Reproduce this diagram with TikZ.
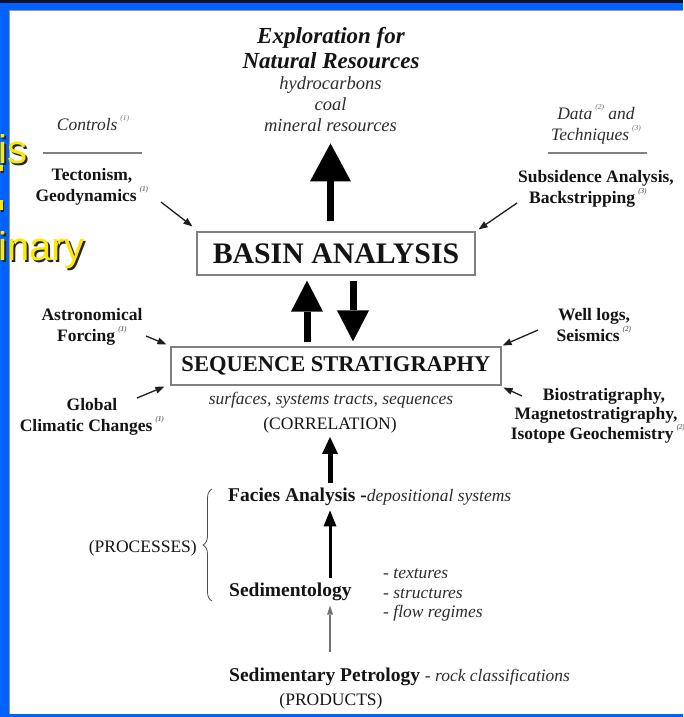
\documentclass[tikz,border=0pt]{standalone}
\usepackage{fontspec}
\setmainfont{Liberation Serif}
\newfontfamily\arialf{Liberation Sans}
\usetikzlibrary{arrows.meta,decorations.pathreplacing}
\definecolor{frameblue}{RGB}{0,98,255}
\definecolor{framedark}{RGB}{10,20,50}
\definecolor{slideyellow}{RGB}{255,232,0}
\definecolor{inkgray}{RGB}{45,45,45}
\newcommand\fnm[1]{\,\raisebox{0.55em}{\fontsize{7.5}{7.5}\selectfont\itshape\color{black!55}(#1)}}
\begin{document}
\begin{tikzpicture}[x=1pt,y=-1pt,
  txt/.style={anchor=base, inner sep=0pt, text=black!92},
  rg/.style={txt, font=\fontsize{17.5}{21}\selectfont},
  it/.style={txt, text=inkgray, font=\fontsize{17.5}{21}\selectfont\itshape},
  bf/.style={txt, font=\fontsize{17.5}{21}\selectfont\bfseries},
  bfl/.style={txt, font=\fontsize{19.5}{23}\selectfont\bfseries},
  ttl/.style={txt, font=\fontsize{23}{26}\selectfont\bfseries\itshape},
  itl/.style={txt, text=inkgray, font=\fontsize{18.5}{21}\selectfont\itshape},
  boxed/.style={draw=black!50, line width=1.2pt, inner sep=0pt, text=black!92},
  lblarrow/.style={line width=1.3pt, draw=black!88, -{Triangle[width=7pt,length=9pt,line width=0pt]}},
  bigA/.style={line width=7.5pt, draw=black, -{Triangle[width=41pt,length=38pt,line width=0pt]}},
  bigB/.style={line width=7pt, draw=black, -{Triangle[width=32pt,length=31pt,line width=0pt]}},
  arrC/.style={line width=5pt, draw=black, -{Triangle[width=16pt,length=17pt,line width=0pt]}},
  arrD/.style={line width=3pt, draw=black, -{Triangle[width=13pt,length=16pt,line width=0pt]}},
  arrE/.style={line width=1.4pt, draw=black!55, -{Triangle[width=6pt,length=9pt,line width=0pt]}},
  ytext/.style={anchor=base west, inner sep=0pt, font=\arialf\fontsize{40}{40}\selectfont}
]
\useasboundingbox (0,0) rectangle (683,717);
\clip (0,0) rectangle (683,717);
\fill[white] (0,0) rectangle (683,717);
% frame
\fill[frameblue] (0,0) rectangle (683,10);
\fill[frameblue] (0,0) rectangle (9,717);
\fill[frameblue] (0,714) rectangle (683,717);
\fill[framedark] (0,0) rectangle (683,3);
\fill[black!40] (9,10) rectangle (10,714);
\fill[black!40] (9,10) rectangle (683,11);
% slide text fragments
\node[ytext, text=black!85] (ysh1) at (0,165) {is};
\node[ytext, text=slideyellow] (y1) at (-2,163) {is};
\node[ytext, text=black!85] (ysh2) at (0,262) {inary};
\node[ytext, text=slideyellow] (y2) at (-2,260) {inary};
\fill[black!85] (1,167) rectangle (4,173);
\fill[slideyellow] (0,165) rectangle (3,171);
\fill[black!85] (1,202) rectangle (4,212);
\fill[slideyellow] (0,200) rectangle (3,210);

% title
\node[ttl] (expl1) at (331,44) {Exploration for};
\node[ttl] (expl2) at (331,68) {Natural Resources};
\node[itl] (hyd) at (330.5,89) {hydrocarbons};
\node[itl] (coal) at (330.5,110) {coal};
\node[itl] (res) at (330.5,131) {mineral resources};

% boxes
\node[boxed, minimum width=278, minimum height=43, font=\fontsize{29.8}{30}\selectfont\bfseries] (basin) at (336,253.5) {BASIN ANALYSIS};
\node[boxed, minimum width=330, minimum height=38, font=\fontsize{22.5}{24}\selectfont\bfseries] (seq) at (336,366) {SEQUENCE STRATIGRAPHY};

% left labels
\node[it] (ctrl) at (93,130) {Controls\fnm{1}};
\draw[black!50, line width=1.3pt] (43,153) -- (142,153);
\node[bf] (tec1) at (92,180) {Tectonism,};
\node[bf] (tec2) at (92,201) {Geodynamics\fnm{1}};
\node[bf] (ast1) at (92,320) {Astronomical};
\node[bf] (ast2) at (92,341) {Forcing\fnm{1}};
\node[bf] (glo1) at (92,410) {Global};
\node[bf] (glo2) at (92,431) {Climatic Changes\fnm{1}};

% right labels
\node[it] (data1) at (596,119) {Data\fnm{2} and};
\node[it] (data2) at (596,140) {Techniques\fnm{3}};
\draw[black!50, line width=1.3pt] (548,153) -- (647,153);
\node[bf] (sub1) at (596,182) {Subsidence Analysis,};
\node[bf] (sub2) at (588,203) {Backstripping\fnm{3}};
\node[bf] (well1) at (594,320) {Well logs,};
\node[bf] (well2) at (594,341) {Seismics\fnm{2}};
\node[bf] (bio1) at (604,400) {Biostratigraphy,};
\node[bf] (bio2) at (596,419) {Magnetostratigraphy,};
\node[bf] (bio3) at (598,439) {Isotope Geochemistry\fnm{2}};

% under sequence box
\node[it] (surf) at (331,404) {surfaces, systems tracts, sequences};
\node[rg] (corr) at (330,429) {(CORRELATION)};

% lower chain
\node[bfl, anchor=base west] (facies) at (228,501) {Facies Analysis -{\mdseries\itshape\fontsize{17.5}{21}\selectfont\color{inkgray}depositional systems}};
\node[rg, anchor=base east] (proc) at (197,552) {(PROCESSES)};
\draw[black!70, line width=0.8pt, decorate, decoration={brace, amplitude=9pt}] (212,601) -- (212,489);
\node[bfl, anchor=base west] (sed) at (229,596) {Sedimentology};
\node[it, anchor=base west] (tex1) at (383,578) {- textures};
\node[it, anchor=base west] (tex2) at (383,598) {- structures};
\node[it, anchor=base west] (tex3) at (383,617) {- flow regimes};
\node[bfl, anchor=base west] (pet) at (229,681) {Sedimentary Petrology {\mdseries\itshape\fontsize{17.5}{21}\selectfont\color{inkgray}- rock classifications}};
\node[rg] (prod) at (331,705) {(PRODUCTS)};

% big arrows
\draw[bigA, shorten <=10pt, shorten >=12pt] (res.south |- basin.north) -- (res.south);
\draw[bigB, shorten <=4pt, shorten >=5pt] ([xshift=-29pt]seq.north) -- ([xshift=-29pt]basin.south);
\draw[bigB, shorten <=5pt, shorten >=5pt] ([xshift=17pt]basin.south) -- ([xshift=17pt]seq.north);

% lower arrows
\draw[arrC, shorten <=4.5pt, shorten >=4pt] (facies.north -| corr.south) -- (corr.south);
\draw[arrD, shorten <=4.5pt, shorten >=5pt] (sed.north -| corr.south) -- (facies.south -| corr.south);
\draw[arrE, shorten <=15pt, shorten >=5pt] (pet.north -| corr.south) -- (sed.south -| corr.south);

% label arrows
\coordinate (tecS) at (161,202);
\coordinate (subS) at (517,203);
\coordinate (astS) at (146,336);
\coordinate (gloS) at (137,398);
\coordinate (welS) at (538,330);
\coordinate (bioS) at (522,396);
\draw[lblarrow] (tecS) -- ([shift={(-4,-5)}]basin.north west);
\draw[lblarrow] (subS) -- ([shift={(3,-2)}]basin.north east);
\draw[lblarrow] (astS) -- ([shift={(-4,-2)}]seq.north west);
\draw[lblarrow] (gloS) -- ([shift={(-6,1)}]seq.south west);
\draw[lblarrow] (welS) -- ([shift={(1,-1)}]seq.north east);
\draw[lblarrow] (bioS) -- ([shift={(2,2)}]seq.south east);
\end{tikzpicture}
\end{document}
